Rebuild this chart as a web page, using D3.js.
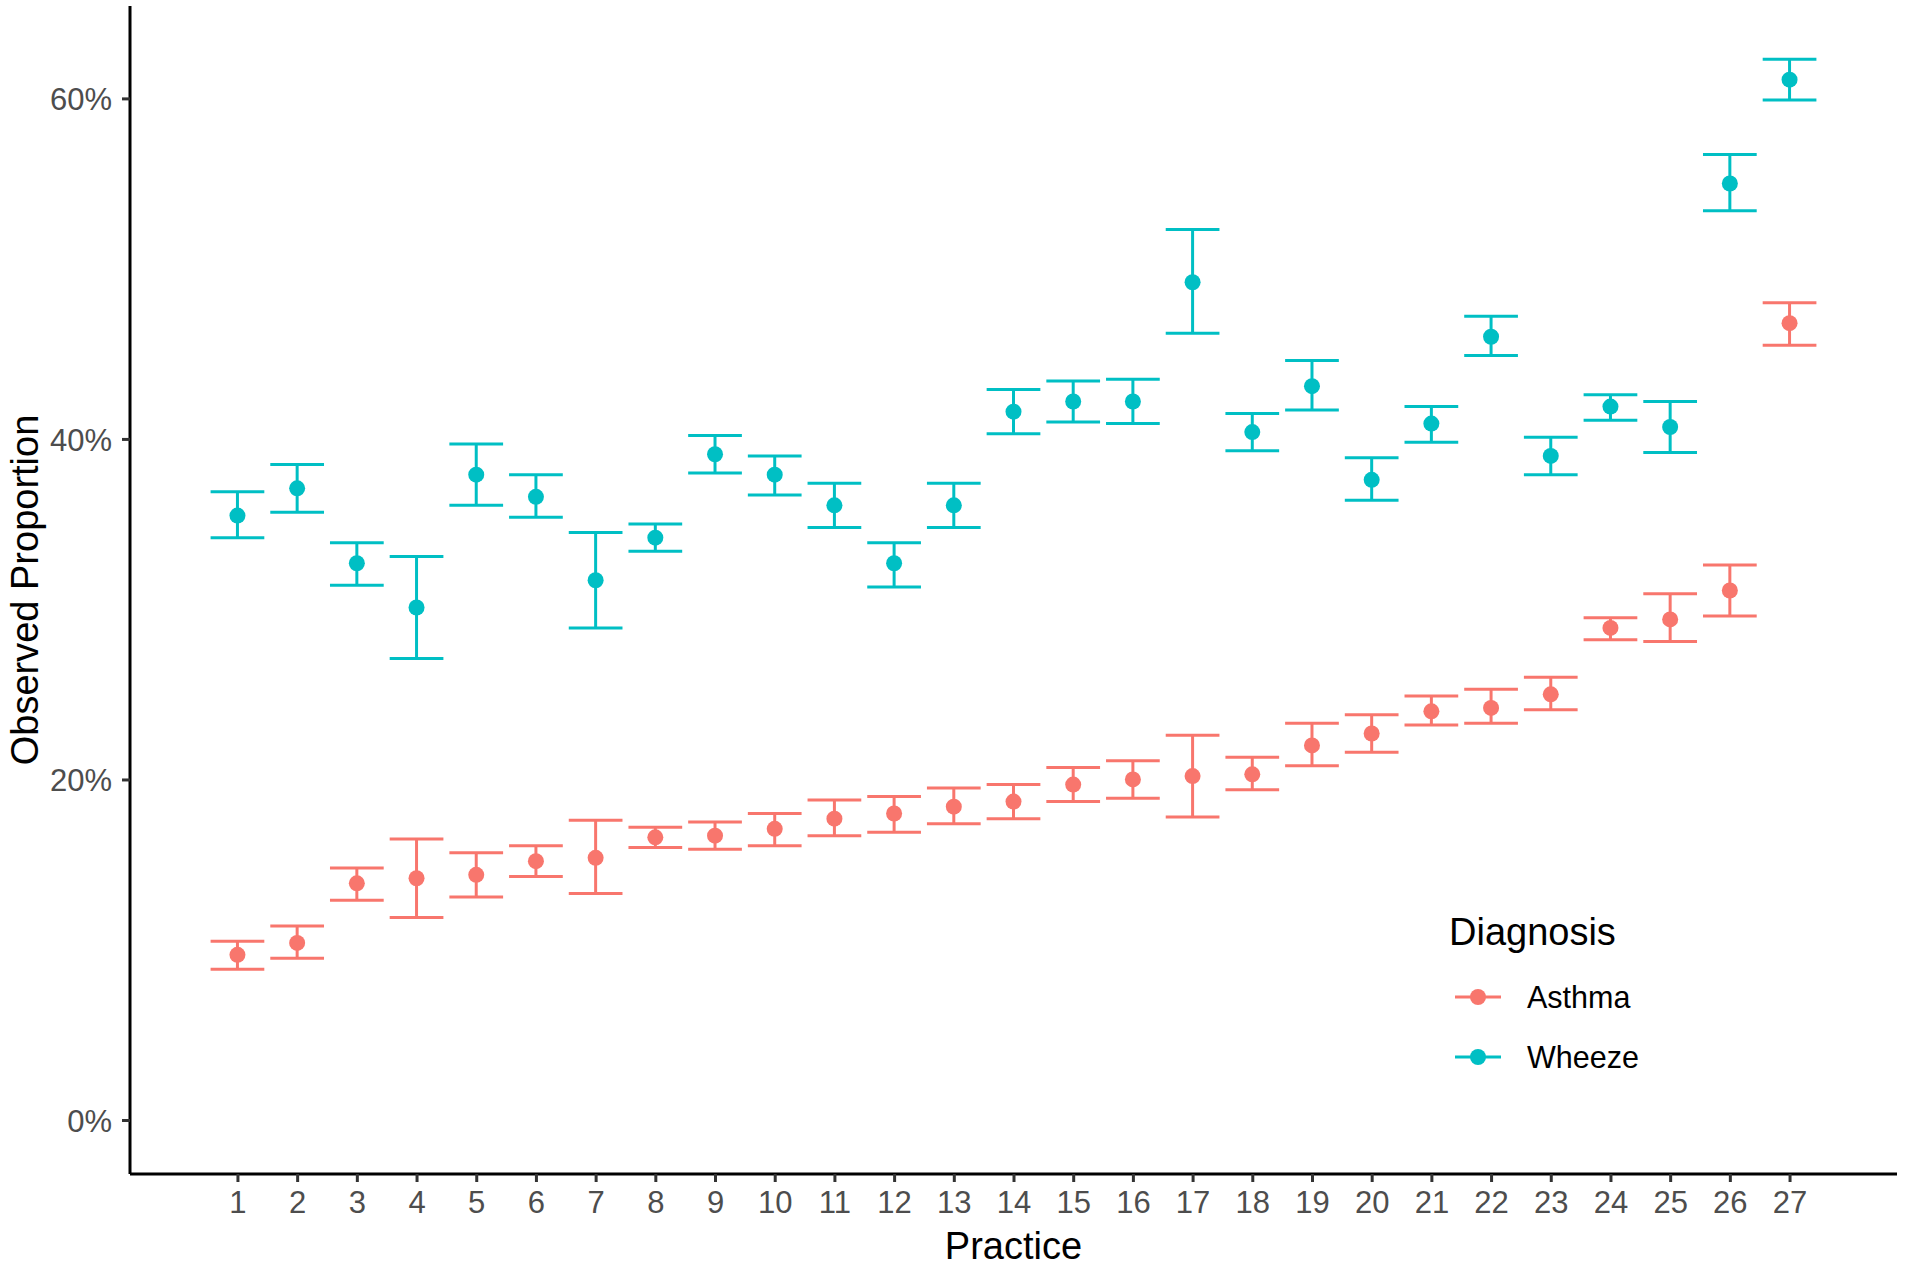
<!DOCTYPE html>
<html>
<head>
<meta charset="utf-8">
<script src="https://cdn.jsdelivr.net/npm/d3@7"></script>
<style>
  body { margin: 0; background: #fff; }
  text { font-family: "Liberation Sans", Arial, sans-serif; }
</style>
</head>
<body>
<svg id="chart"></svg>
<script>
// Practices on the x axis
const practices = d3.range(1, 28).map(String);

// Observed proportion (%) with lower / upper limits
const asthma   = [9.7, 10.4, 13.9, 14.2, 14.4, 15.2, 15.4, 16.6, 16.7, 17.1, 17.7, 18.0, 18.4, 18.7, 19.7, 20.0, 20.2, 20.3, 22.0, 22.7, 24.0, 24.2, 25.0, 28.9, 29.4, 31.1, 46.8];
const asthmaLo = [8.85, 9.5, 12.9, 11.9, 13.1, 14.3, 13.3, 16.0, 15.9, 16.1, 16.7, 16.9, 17.4, 17.7, 18.7, 18.9, 17.8, 19.4, 20.8, 21.6, 23.2, 23.3, 24.1, 28.2, 28.1, 29.6, 45.5];
const asthmaHi = [10.5, 11.4, 14.8, 16.5, 15.7, 16.1, 17.6, 17.2, 17.5, 18.0, 18.8, 19.0, 19.5, 19.7, 20.7, 21.1, 22.6, 21.3, 23.3, 23.8, 24.9, 25.3, 26.0, 29.5, 30.9, 32.6, 48.0];

const wheeze   = [35.5, 37.1, 32.7, 30.1, 37.9, 36.6, 31.7, 34.2, 39.1, 37.9, 36.1, 32.7, 36.1, 41.6, 42.2, 42.2, 49.2, 40.4, 43.1, 37.6, 40.9, 46.0, 39.0, 41.9, 40.7, 55.0, 61.1];
const wheezeLo = [34.2, 35.7, 31.4, 27.1, 36.1, 35.4, 28.9, 33.4, 38.0, 36.7, 34.8, 31.3, 34.8, 40.3, 41.0, 40.9, 46.2, 39.3, 41.7, 36.4, 39.8, 44.9, 37.9, 41.1, 39.2, 53.4, 59.9];
const wheezeHi = [36.9, 38.5, 33.9, 33.1, 39.7, 37.9, 34.5, 35.0, 40.2, 39.0, 37.4, 33.9, 37.4, 42.9, 43.4, 43.5, 52.3, 41.5, 44.6, 38.9, 41.9, 47.2, 40.1, 42.6, 42.2, 56.7, 62.3];

const diagnoses = ["Asthma", "Wheeze"];
const colors = ["#F8766D", "#00BFC4"];
const yTicks = [0, 20, 40, 60];

const width = 1905, height = 1266;
const margin = { top: 6, right: 8, bottom: 92, left: 130 };

const svg = d3.select("#chart")
    .attr("width", width)
    .attr("height", height);

const x = d3.scalePoint()
    .domain(practices)
    .range([margin.left, width - margin.right])
    .padding(1.8);

const y = d3.scaleLinear()
    .domain([-3.171, 65.426])
    .range([height - margin.bottom, margin.top]);

const color = d3.scaleOrdinal().domain(diagnoses).range(colors);

// long table built from the arrays
const series = [
    { key: "Asthma", v: asthma, lo: asthmaLo, hi: asthmaHi },
    { key: "Wheeze", v: wheeze, lo: wheezeLo, hi: wheezeHi }
];
const rows = series.flatMap(s => practices.map((p, i) => ({
    diag: s.key, practice: p, v: s.v[i], lo: s.lo[i], hi: s.hi[i]
})));

// Axes
const xAxis = svg.append("g")
    .attr("transform", `translate(0,${height - margin.bottom})`)
    .call(d3.axisBottom(x).tickSizeOuter(0).tickSize(8).tickPadding(9));

const yAxis = svg.append("g")
    .attr("transform", `translate(${margin.left},0)`)
    .call(d3.axisLeft(y).tickValues(yTicks).tickFormat(d => d + "%")
        .tickSizeOuter(0).tickSize(8).tickPadding(10));

[xAxis, yAxis].forEach(a => {
    a.select(".domain").attr("stroke", "#000").attr("stroke-width", 3);
    a.selectAll(".tick line").attr("stroke", "#333").attr("stroke-width", 3);
    a.selectAll(".tick text")
        .attr("fill", "#4D4D4D")
        .style("font-size", "31px")
        .style("font-family", "'Liberation Sans', Arial, sans-serif");
});
yAxis.selectAll(".tick text").attr("dy", "0.36em");

// fix axis line ends to the panel
xAxis.select(".domain").attr("d", `M${margin.left},0H${width - margin.right}`);
yAxis.select(".domain").attr("d", `M0,${margin.top}V${height - margin.bottom}`);

// Error bars + points
const half = x.step() * 0.45;
const groups = svg.append("g").selectAll("g")
    .data(rows)
    .enter()
    .append("g")
    .attr("stroke", d => color(d.diag))
    .attr("fill", d => color(d.diag));

groups.append("line")
    .attr("x1", d => x(d.practice)).attr("x2", d => x(d.practice))
    .attr("y1", d => y(d.lo)).attr("y2", d => y(d.hi))
    .attr("stroke-width", 3);

groups.append("line")
    .attr("x1", d => x(d.practice) - half).attr("x2", d => x(d.practice) + half)
    .attr("y1", d => y(d.hi)).attr("y2", d => y(d.hi))
    .attr("stroke-width", 3);

groups.append("line")
    .attr("x1", d => x(d.practice) - half).attr("x2", d => x(d.practice) + half)
    .attr("y1", d => y(d.lo)).attr("y2", d => y(d.lo))
    .attr("stroke-width", 3);

groups.append("circle")
    .attr("cx", d => x(d.practice))
    .attr("cy", d => y(d.v))
    .attr("r", 8)
    .attr("stroke", "none");

// Axis titles
svg.append("text")
    .attr("x", (margin.left + width - margin.right) / 2)
    .attr("y", 1259)
    .attr("text-anchor", "middle")
    .style("font-size", "38px")
    .text("Practice");

svg.append("text")
    .attr("transform", `translate(38,${(margin.top + height - margin.bottom) / 2}) rotate(-90)`)
    .attr("text-anchor", "middle")
    .style("font-size", "38px")
    .text("Observed Proportion");

// Legend
const legend = svg.append("g");
legend.append("text")
    .attr("x", 1449)
    .attr("y", 945)
    .style("font-size", "38px")
    .text("Diagnosis");

const item = legend.selectAll(".item")
    .data(diagnoses)
    .enter()
    .append("g")
    .attr("transform", (d, i) => `translate(1478,${997 + i * 60})`);

item.append("line")
    .attr("x1", -23).attr("x2", 23)
    .attr("stroke", d => color(d))
    .attr("stroke-width", 3);

item.append("circle")
    .attr("r", 8)
    .attr("fill", d => color(d));

item.append("text")
    .attr("x", 49)
    .attr("dy", "0.36em")
    .style("font-size", "30.5px")
    .text(d => d);
</script>
</body>
</html>
